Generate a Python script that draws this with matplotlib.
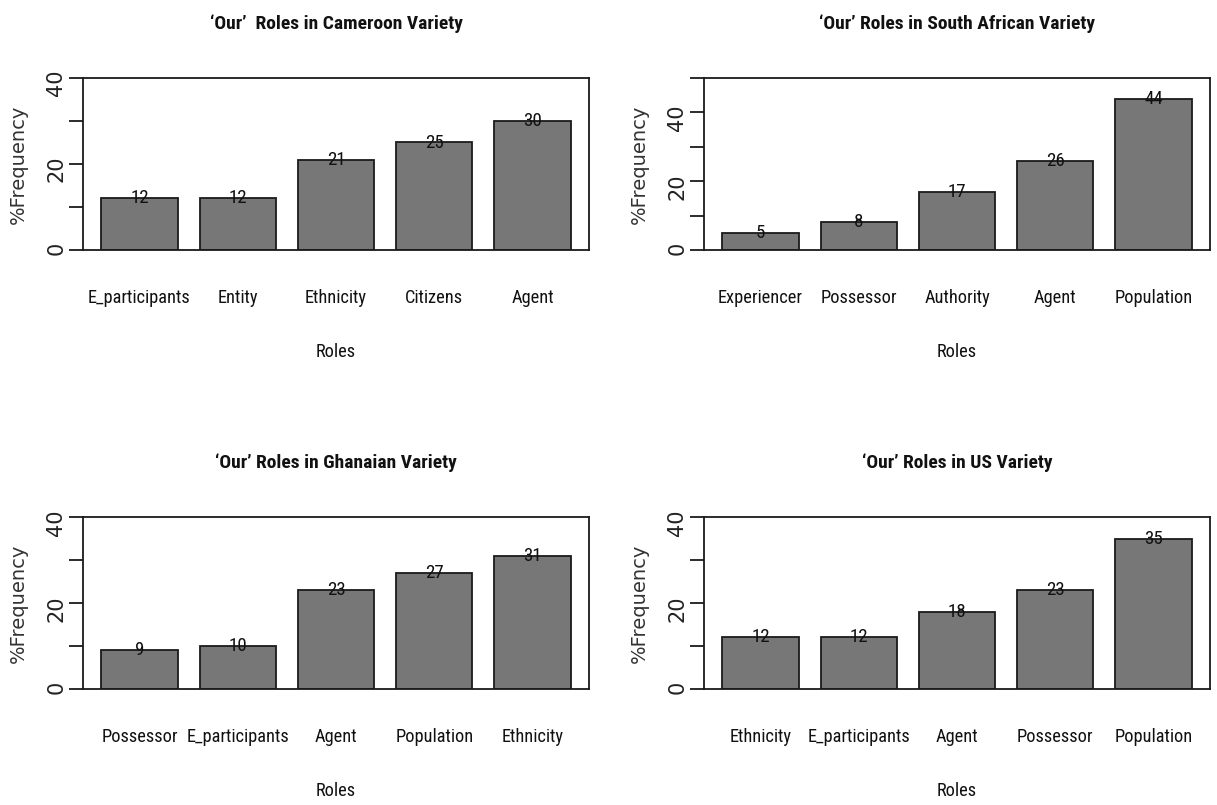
"""
Four bar charts of 'Our' roles in the Cameroon, South African,
Ghanaian and US varieties, laid out in a 2x2 grid like the R barplots.
"""

import matplotlib
matplotlib.use("Agg")
import matplotlib.pyplot as plt
from matplotlib import font_manager

# Data for each variety
cameroon_roles = ["E_participants", "Entity", "Ethnicity", "Citizens", "Agent"]
cameroon_freq = [12, 12, 21, 25, 30]

south_africa_roles = ["Experiencer", "Possessor", "Authority", "Agent", "Population"]
south_africa_freq = [5, 8, 17, 26, 44]

ghana_roles = ["Possessor", "E_participants", "Agent", "Population", "Ethnicity"]
ghana_freq = [9, 10, 23, 27, 31]

us_roles = ["Ethnicity", "E_participants", "Agent", "Possessor", "Population"]
us_freq = [12, 12, 18, 23, 35]

titles = [
    "\u2018Our\u2019  Roles in Cameroon Variety",
    "\u2018Our\u2019 Roles in South African Variety",
    "\u2018Our\u2019 Roles in Ghanaian Variety",
    "\u2018Our\u2019 Roles in US Variety",
]
y_limits = [40, 50, 40, 40]

# Pick a narrow font if one is installed, the R output uses a condensed face
installed = {f.name for f in font_manager.fontManager.ttflist}
narrow = ["Liberation Sans", "DejaVu Sans"]
label_size = 12.5
title_size = 12
for cand in ["Liberation Sans Narrow", "Roboto Condensed", "Open Sans Condensed"]:
    if cand in installed:
        narrow = [cand, "DejaVu Sans"]
        label_size = 13.2
        title_size = 14
        break

W, H = 1217, 805
fig = plt.figure(figsize=(W / 100, H / 100), dpi=100)

# Panel boxes in pixels: left, top, right, bottom
boxes = [
    (83, 78, 589, 250),
    (704, 78, 1210, 250),
    (83, 517, 589, 689),
    (704, 517, 1210, 689),
]

panels = [
    (cameroon_roles, cameroon_freq),
    (south_africa_roles, south_africa_freq),
    (ghana_roles, ghana_freq),
    (us_roles, us_freq),
]

edge = "#1a1a1a"

for (roles, freq), title, ymax, (l, t, r, b) in zip(panels, titles, y_limits, boxes):
    ax = fig.add_axes([l / W, 1 - b / H, (r - l) / W, (b - t) / H])
    x = list(range(len(roles)))
    ax.bar(x, freq, width=0.775, color="#777777", edgecolor=edge, linewidth=1.3)

    for xi, v in zip(x, freq):
        ax.text(xi, v, str(v), ha="center", va="center",
                fontsize=label_size + 0.5, family=narrow, color="#111111")

    ax.set_xlim(-0.575, 4.575)
    ax.set_ylim(0, ymax)

    ticks = list(range(0, ymax + 1, 10))
    ax.set_yticks(ticks)
    ax.set_yticklabels([str(tk) if tk % 20 == 0 else "" for tk in ticks])
    ax.tick_params(axis="y", length=10, width=1.3, color=edge, pad=2,
                   labelsize=15, labelrotation=90, labelcolor="#222222")
    for lab in ax.get_yticklabels():
        lab.set_family("DejaVu Sans")

    ax.set_xticks(x)
    ax.set_xticklabels(roles, family=narrow, fontsize=label_size, color="#111111")
    ax.tick_params(axis="x", length=0, pad=28)

    for side in ["left", "right", "top", "bottom"]:
        ax.spines[side].set_linewidth(1.3)
        ax.spines[side].set_color(edge)

    ax.set_xlabel("Roles", family=narrow, fontsize=label_size, color="#111111", va="center")
    ax.xaxis.set_label_coords(0.5, -102 / (b - t))
    ax.set_ylabel("%Frequency", family="DejaVu Sans", fontsize=14,
                  color="#333333", va="center")
    ax.yaxis.set_label_coords(-65 / (r - l), 0.5)

    ax.set_title(title, family=narrow, fontsize=title_size, fontweight="bold",
                 y=1 + 46 / (b - t), va="center", color="#111111")

fig.savefig("out.png", dpi=100)
